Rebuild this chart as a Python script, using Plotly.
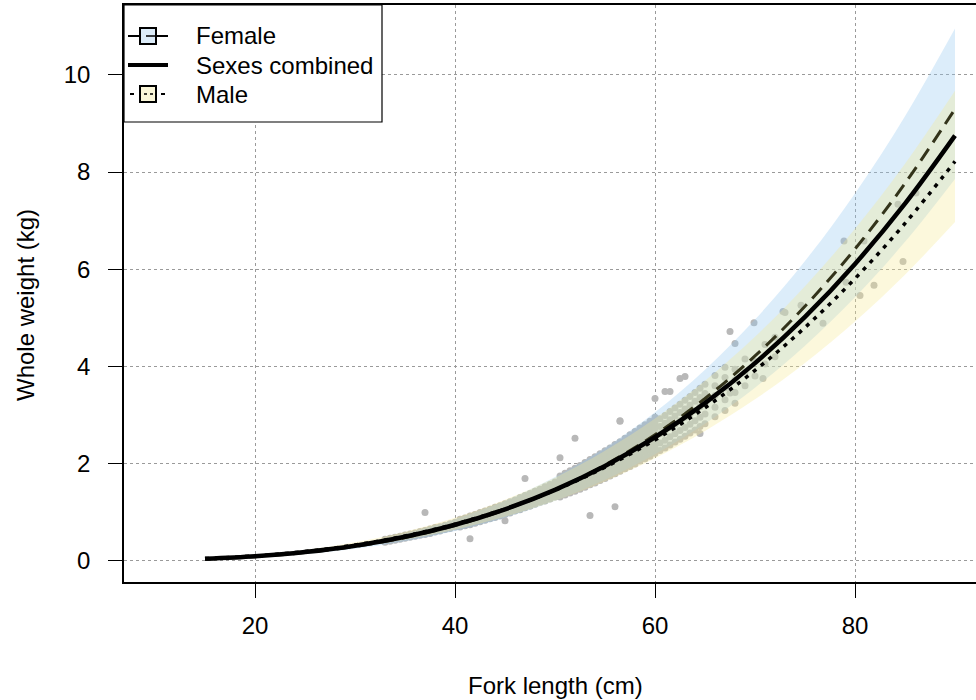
import plotly.graph_objects as go

# fitted curves at fork lengths 15..90 cm
fit_len = [15, 20, 25, 30, 35, 40, 45, 50, 55, 60, 65, 70, 75, 80, 85, 90]
combined_wt = [0.037, 0.089, 0.176, 0.307, 0.491, 0.738, 1.057, 1.457, 1.948, 2.540, 3.243, 4.066, 5.018, 6.109, 7.350, 8.75]
female_wt = [0.033, 0.082, 0.165, 0.292, 0.475, 0.723, 1.048, 1.460, 1.971, 2.593, 3.337, 4.214, 5.237, 6.417, 7.767, 9.30]
female_hi = [0.039, 0.096, 0.194, 0.344, 0.559, 0.852, 1.234, 1.720, 2.322, 3.054, 3.931, 4.964, 6.170, 7.559, 9.149, 10.955]
female_lo = [0.028, 0.069, 0.139, 0.247, 0.401, 0.611, 0.885, 1.234, 1.666, 2.191, 2.820, 3.561, 4.426, 5.422, 6.563, 7.859]
male_wt = [0.042, 0.097, 0.188, 0.322, 0.507, 0.752, 1.064, 1.451, 1.923, 2.485, 3.148, 3.917, 4.801, 5.807, 6.944, 8.22]
male_hi = [0.049, 0.115, 0.221, 0.379, 0.596, 0.885, 1.252, 1.708, 2.263, 2.925, 3.705, 4.610, 5.651, 6.835, 8.173, 9.675]
male_lo = [0.035, 0.083, 0.159, 0.273, 0.430, 0.637, 0.902, 1.231, 1.630, 2.107, 2.669, 3.321, 4.071, 4.924, 5.888, 6.971]

# observed fish, grouped by fork length (cm) -> whole weights (kg)
obs_len = [33, 33.5, 34, 34.5, 35, 35.5, 36, 36.5, 37, 37.5, 38, 38.5, 39, 39.5, 40,
           40.5, 41, 41.5, 42, 42.5, 43, 43.5, 44, 44.5, 45, 45.5, 46, 46.5, 47, 47.5,
           48, 48.5, 49, 49.5, 50, 50.5, 51, 51.5, 52, 52.5, 53, 53.5, 54, 54.5, 55,
           55.5, 56, 56.5, 57, 57.5, 58, 58.5, 59, 59.5, 60, 60.5, 61, 61.5, 62, 62.5,
           63, 63.5, 64, 64.5, 65, 66, 67, 67.5, 68, 69, 70, 71, 72]
obs_wt = [
    [0.38, 0.40, 0.41, 0.43, 0.44], [0.40, 0.42, 0.43, 0.45, 0.46], [0.42, 0.44, 0.45, 0.47, 0.48],
    [0.44, 0.46, 0.47, 0.49, 0.50], [0.46, 0.48, 0.49, 0.51, 0.53], [0.48, 0.50, 0.51, 0.53, 0.55],
    [0.50, 0.52, 0.54, 0.56, 0.57], [0.52, 0.54, 0.56, 0.58, 0.60], [0.54, 0.56, 0.58, 0.61, 0.62, 0.99],
    [0.56, 0.59, 0.61, 0.63, 0.65], [0.59, 0.61, 0.63, 0.66, 0.68], [0.61, 0.64, 0.66, 0.68, 0.70],
    [0.64, 0.66, 0.68, 0.71, 0.73], [0.66, 0.69, 0.71, 0.74, 0.76], [0.69, 0.72, 0.74, 0.77, 0.79],
    [0.69, 0.73, 0.76, 0.79, 0.82, 0.85], [0.72, 0.76, 0.79, 0.82, 0.85, 0.88],
    [0.74, 0.78, 0.82, 0.85, 0.88, 0.92, 0.45], [0.77, 0.81, 0.85, 0.88, 0.92, 0.95],
    [0.80, 0.84, 0.88, 0.91, 0.95, 0.99], [0.83, 0.87, 0.91, 0.95, 0.98, 1.02],
    [0.86, 0.91, 0.94, 0.98, 1.02, 1.06], [0.89, 0.94, 0.98, 1.02, 1.06, 1.10],
    [0.92, 0.97, 1.01, 1.05, 1.09, 1.13], [0.95, 1.00, 1.05, 1.09, 1.13, 1.17, 0.82],
    [0.98, 1.04, 1.08, 1.13, 1.17, 1.21], [1.02, 1.07, 1.12, 1.16, 1.21, 1.25],
    [1.05, 1.11, 1.16, 1.20, 1.25, 1.30], [1.09, 1.15, 1.19, 1.24, 1.29, 1.34, 1.69],
    [1.12, 1.18, 1.23, 1.28, 1.33, 1.38], [1.16, 1.22, 1.27, 1.33, 1.38, 1.43],
    [1.20, 1.26, 1.31, 1.37, 1.42, 1.47], [1.23, 1.30, 1.36, 1.41, 1.47, 1.52],
    [1.27, 1.34, 1.40, 1.46, 1.51, 1.57], [1.31, 1.38, 1.44, 1.50, 1.56, 1.62],
    [1.31, 1.38, 1.46, 1.53, 1.61, 1.68, 1.74, 2.12], [1.35, 1.42, 1.50, 1.58, 1.66, 1.73, 1.80],
    [1.39, 1.47, 1.55, 1.63, 1.71, 1.79, 1.85], [1.43, 1.51, 1.59, 1.67, 1.76, 1.84, 1.90, 2.52],
    [1.47, 1.56, 1.64, 1.72, 1.81, 1.89, 1.96], [1.51, 1.60, 1.69, 1.77, 1.86, 1.95, 2.02],
    [1.56, 1.65, 1.74, 1.83, 1.92, 2.00, 2.08, 0.93], [1.60, 1.69, 1.79, 1.88, 1.97, 2.06, 2.14],
    [1.65, 1.74, 1.84, 1.93, 2.03, 2.12, 2.20], [1.69, 1.79, 1.89, 1.99, 2.08, 2.18, 2.26],
    [1.74, 1.84, 1.94, 2.04, 2.14, 2.24, 2.32], [1.79, 1.89, 2.00, 2.10, 2.20, 2.30, 2.39, 1.11],
    [1.84, 1.95, 2.05, 2.16, 2.26, 2.37, 2.45, 2.88, 2.87], [1.89, 2.00, 2.11, 2.22, 2.32, 2.43, 2.52],
    [1.94, 2.05, 2.16, 2.28, 2.39, 2.50, 2.59], [1.99, 2.11, 2.22, 2.34, 2.45, 2.57, 2.66],
    [2.05, 2.16, 2.28, 2.40, 2.52, 2.63, 2.73], [2.10, 2.22, 2.34, 2.46, 2.58, 2.70, 2.80],
    [2.15, 2.28, 2.40, 2.53, 2.65, 2.77, 2.87], [2.21, 2.34, 2.46, 2.59, 2.72, 2.84, 2.95, 3.34],
    [2.27, 2.42, 2.61, 2.76, 2.92], [2.32, 2.48, 2.67, 2.83, 2.99, 3.48],
    [2.38, 2.55, 2.74, 2.90, 3.07, 3.48], [2.44, 2.61, 2.81, 2.98, 3.14],
    [2.50, 2.68, 2.88, 3.05, 3.22, 3.75], [2.56, 2.74, 2.95, 3.12, 3.30, 3.79],
    [2.63, 2.81, 3.02, 3.20, 3.38], [2.69, 2.88, 3.09, 3.28, 3.46],
    [2.76, 2.95, 3.17, 3.36, 3.55, 2.62], [2.82, 3.02, 3.24, 3.44, 3.63],
    [2.96, 3.16, 3.40, 3.60, 3.81], [3.09, 3.31, 3.56, 3.77, 3.98], [3.45, 4.72],
    [3.24, 3.46, 3.72, 3.94, 4.47], [3.60, 3.89, 4.15], [3.80, 4.10], [4.05, 4.45], [4.20, 4.60]]
extra_len = [69.9, 70.8, 72.8, 73.0, 74.6, 76.8, 78.9, 79.1, 80.5, 80.9, 81.9, 84.3, 84.8, 86.1]
extra_wt = [4.90, 3.75, 5.13, 5.11, 5.26, 4.89, 6.58, 5.73, 5.46, 6.58, 5.67, 7.34, 6.16, 7.57]

x_ticks = [20, 40, 60, 80]
y_ticks = [0, 2, 4, 6, 8, 10]
legend_names = ["Female", "Sexes combined", "Male"]

pts_x, pts_y = [], []
for L, ws in zip(obs_len, obs_wt):
    for w in ws:
        pts_x.append(L)
        pts_y.append(w)
pts_x += extra_len
pts_y += extra_wt

FONT = "Arial, Liberation Sans, sans-serif"
fig = go.Figure()
fig.add_trace(go.Scatter(x=pts_x, y=pts_y, mode="markers", showlegend=False,
                         marker=dict(size=7, color="#b8b8b8"), hoverinfo="skip"))
# female band
fig.add_trace(go.Scatter(x=fit_len, y=female_lo, mode="lines", line=dict(width=0, shape="spline"),
                         showlegend=False, hoverinfo="skip"))
fig.add_trace(go.Scatter(x=fit_len, y=female_hi, mode="lines", line=dict(width=0, shape="spline"),
                         fill="tonexty", fillcolor="rgba(150,200,240,0.33)", showlegend=False, hoverinfo="skip"))
# male band
fig.add_trace(go.Scatter(x=fit_len, y=male_lo, mode="lines", line=dict(width=0, shape="spline"),
                         showlegend=False, hoverinfo="skip"))
fig.add_trace(go.Scatter(x=fit_len, y=male_hi, mode="lines", line=dict(width=0, shape="spline"),
                         fill="tonexty", fillcolor="rgba(245,235,150,0.33)", showlegend=False, hoverinfo="skip"))
# lines
fig.add_trace(go.Scatter(x=fit_len, y=female_wt, mode="lines", showlegend=False,
                         line=dict(color="#33331a", width=3, dash="14px,8px", shape="spline")))
fig.add_trace(go.Scatter(x=fit_len, y=male_wt, mode="lines", showlegend=False,
                         line=dict(color="black", width=3.5, dash="4px,6px", shape="spline")))
fig.add_trace(go.Scatter(x=fit_len, y=combined_wt, mode="lines", showlegend=False,
                         line=dict(color="black", width=4.5, shape="spline")))

# manual legend (pixel positions converted to paper coordinates)
PW, PH, PL, PT = 852.0, 577.0, 124.0, 5.0
def px(x):
    return (x - PL) / PW
def py(y):
    return 1 - (y - PT) / PH

shapes = [dict(type="rect", xref="paper", yref="paper", x0=px(124), x1=px(382), y0=py(122), y1=py(5),
               line=dict(color="black", width=1.2), fillcolor="white", layer="above")]
row_y = [36, 65, 94]
# Female symbol
shapes += [
    dict(type="line", xref="paper", yref="paper", x0=px(128), x1=px(168), y0=py(row_y[0]), y1=py(row_y[0]),
         line=dict(color="black", width=2), layer="above"),
    dict(type="rect", xref="paper", yref="paper", x0=px(140), x1=px(156), y0=py(row_y[0] + 8), y1=py(row_y[0] - 8),
         line=dict(color="black", width=2), fillcolor="#dcecf9", layer="above"),
    dict(type="line", xref="paper", yref="paper", x0=px(146), x1=px(156), y0=py(row_y[0]), y1=py(row_y[0]),
         line=dict(color="black", width=1.5), layer="above"),
]
# combined symbol
shapes += [dict(type="line", xref="paper", yref="paper", x0=px(128), x1=px(168), y0=py(row_y[1]), y1=py(row_y[1]),
                line=dict(color="black", width=4), layer="above")]
# Male symbol
shapes += [
    dict(type="line", xref="paper", yref="paper", x0=px(130), x1=px(134), y0=py(row_y[2]), y1=py(row_y[2]),
         line=dict(color="black", width=2), layer="above"),
    dict(type="line", xref="paper", yref="paper", x0=px(161), x1=px(165), y0=py(row_y[2]), y1=py(row_y[2]),
         line=dict(color="black", width=2), layer="above"),
    dict(type="rect", xref="paper", yref="paper", x0=px(140), x1=px(156), y0=py(row_y[2] + 8), y1=py(row_y[2] - 8),
         line=dict(color="black", width=2), fillcolor="#faf6d8", layer="above"),
    dict(type="line", xref="paper", yref="paper", x0=px(144), x1=px(147), y0=py(row_y[2]), y1=py(row_y[2]),
         line=dict(color="black", width=1.5), layer="above"),
    dict(type="line", xref="paper", yref="paper", x0=px(150), x1=px(153), y0=py(row_y[2]), y1=py(row_y[2]),
         line=dict(color="black", width=1.5), layer="above"),
]

annotations = [
    dict(text="Fork length (cm)", xref="paper", yref="paper", x=px(555), y=py(685),
         showarrow=False, xanchor="center", yanchor="middle", font=dict(size=24)),
    dict(text="Whole weight (kg)", xref="paper", yref="paper", x=px(25), y=py(305),
         showarrow=False, xanchor="center", yanchor="middle", textangle=-90, font=dict(size=24)),
]
for name, yy in zip(legend_names, row_y):
    annotations.append(dict(text=name, xref="paper", yref="paper", x=px(194), y=py(yy),
                            showarrow=False, xanchor="left", yanchor="middle", font=dict(size=24)))

fig.update_layout(
    width=976, height=700, margin=dict(l=124, r=0, t=5, b=118),
    plot_bgcolor="white", paper_bgcolor="white", showlegend=False,
    font=dict(family=FONT, size=24, color="black"),
    xaxis=dict(range=[6.9, 92.1], tickvals=x_ticks, showgrid=True, gridcolor="#9a9a9a",
               griddash="dot", gridwidth=1, zeroline=False, showline=True, linecolor="black",
               linewidth=1.5, mirror=True, ticks="outside", ticklen=14, tickwidth=1.2,
               tickcolor="black", ticklabelstandoff=7),
    yaxis=dict(range=[-0.44, 11.44], tickvals=y_ticks, showgrid=True, gridcolor="#9a9a9a",
               griddash="dot", gridwidth=1, zeroline=False, showline=True, linecolor="black",
               linewidth=1.5, mirror=False, ticks="outside", ticklen=14, tickwidth=1.2,
               tickcolor="black", ticklabelstandoff=13),
    shapes=shapes,
    annotations=annotations,
)
fig.write_html("out.html")
